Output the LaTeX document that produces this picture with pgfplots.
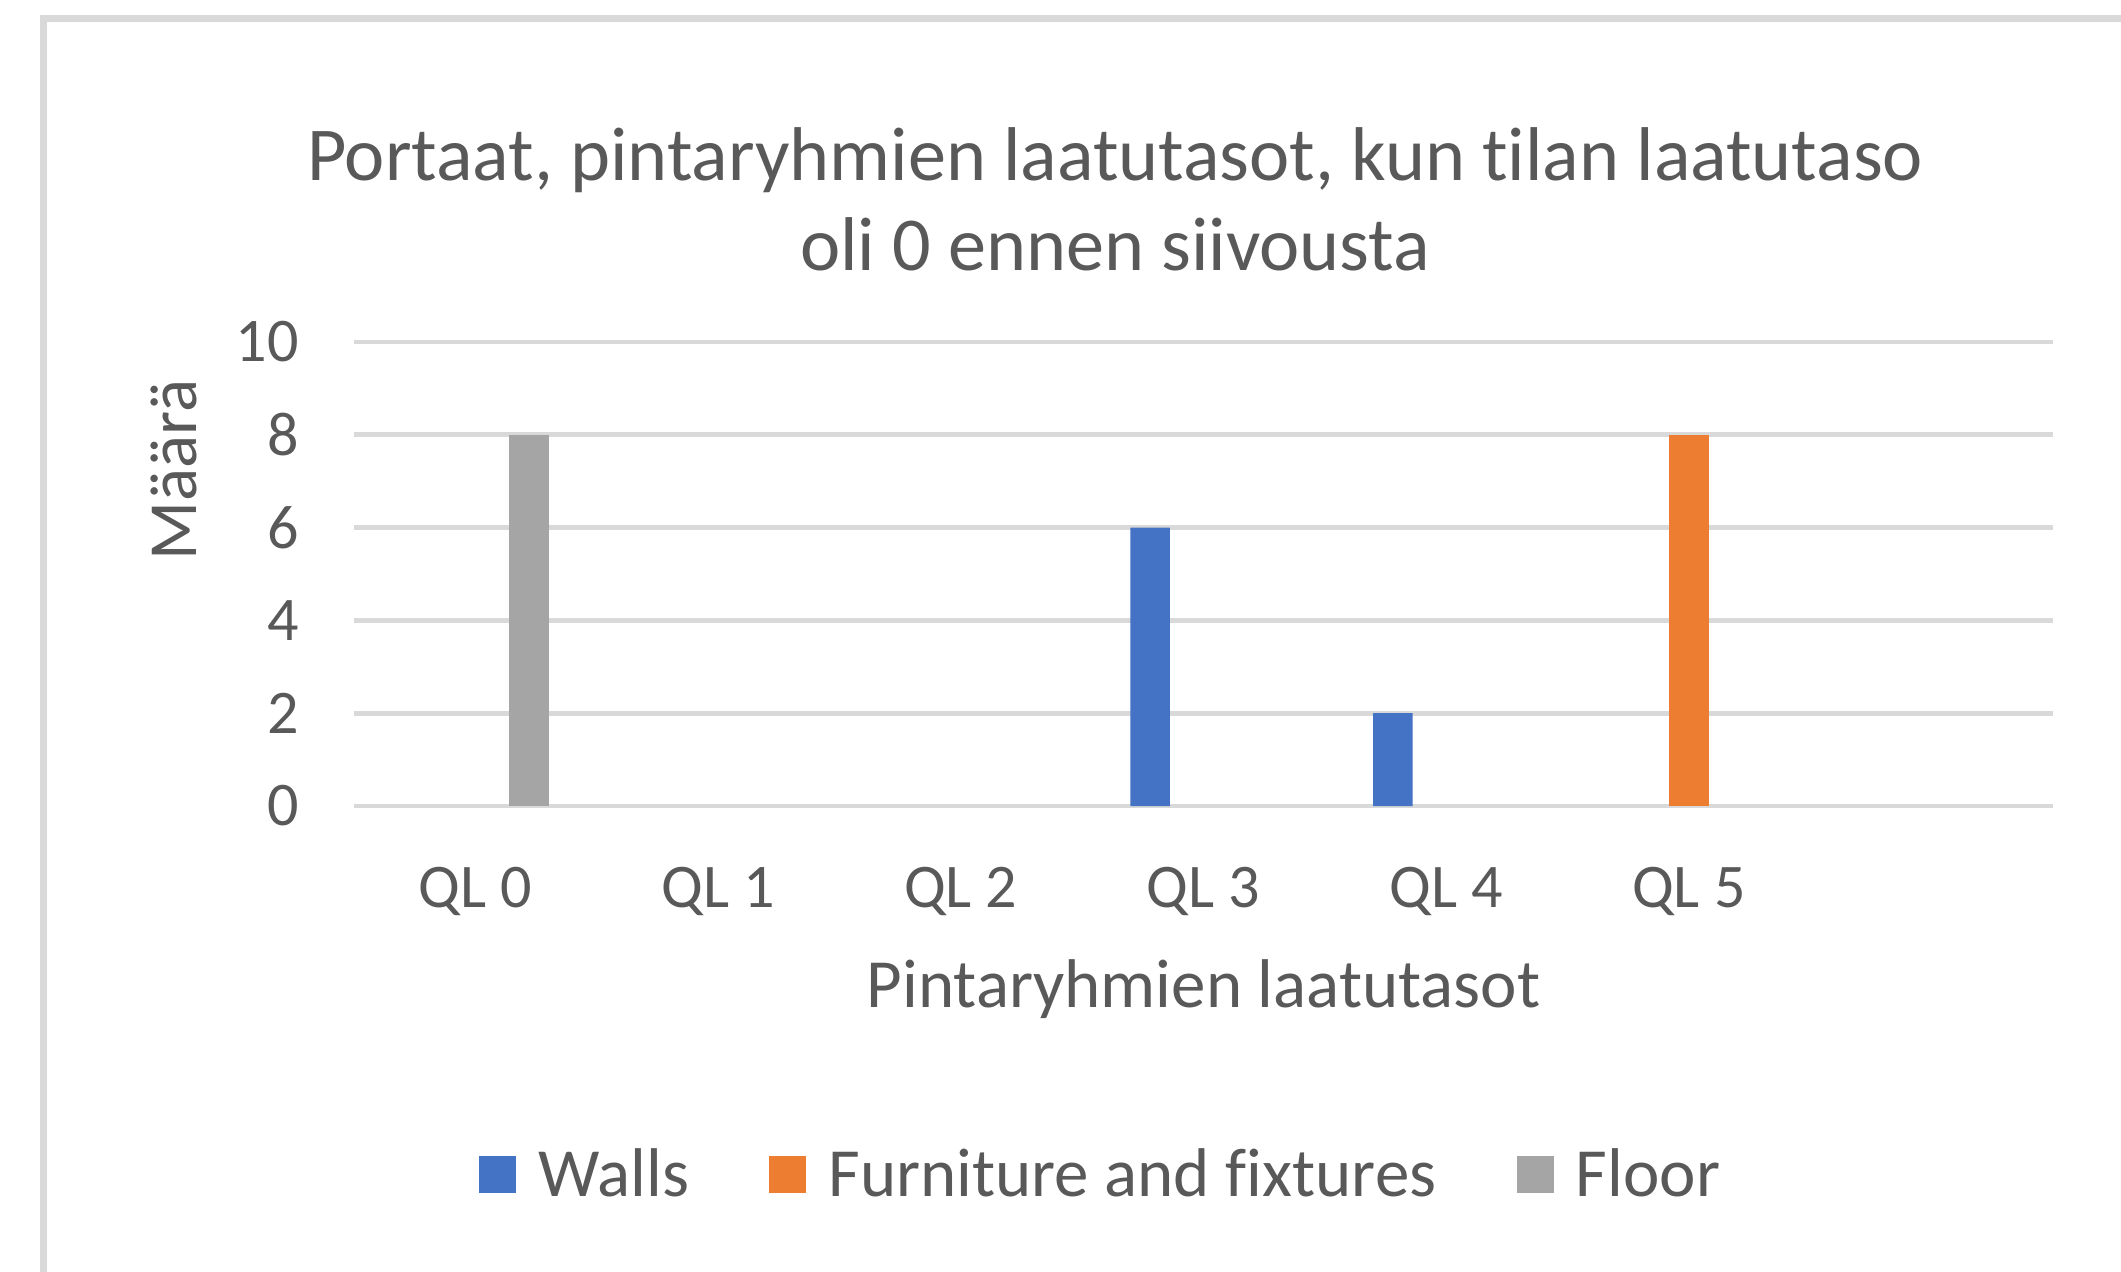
\documentclass[border=0pt]{standalone}
\usepackage{fontspec}
\setmainfont{Carlito}[Ligatures={NoCommon}]
\usepackage{pgfplots}
\pgfplotsset{compat=1.18}
\definecolor{walls}{HTML}{4472C4}
\definecolor{furn}{HTML}{ED7D31}
\definecolor{floorc}{HTML}{A5A5A5}
\definecolor{gridc}{HTML}{D9D9D9}
\definecolor{txt}{HTML}{595959}
\pgfplotsset{sq/.style={legend image code/.code={%
  \fill[##1] (0pt,-2.3pt) rectangle (5.4pt,3.1pt); \path (6.6pt,0pt);}}}

\begin{document}
\begin{tikzpicture}
\useasboundingbox (0,0) rectangle (307.545pt,-184.295pt);
\begin{scope}
  \clip (0,0) rectangle (307.545pt,-184.295pt);
  \draw[gridc, line width=0.95pt] (6.31pt,-2.68pt) rectangle (330pt,-200pt);
\end{scope}
\begin{axis}[
  at={(51.33pt,-116.87pt)}, anchor=south west,
  scale only axis, width=246.36pt, height=67.28pt,
  xmin=-0.5, xmax=6.5, ymin=0, ymax=10,
  xtick={0,...,5}, xticklabels={QL 0,QL 1,QL 2,QL 3,QL 4,QL 5},
  ytick={0,2,...,10},
  ymajorgrids, grid style={gridc, line width=0.7pt},
  axis line style={draw=none}, major tick style={draw=none},
  tick label style={font=\fontsize{9}{10}\selectfont, text=txt},
  /pgf/number format/assume math mode=true,
  yticklabel style={anchor=east, inner sep=0pt, xshift=-7.8pt},
  xticklabel style={anchor=north, inner sep=0pt, yshift=-8.7pt},
  xlabel={Pintaryhmien laatutasot},
  ylabel={Määrä},
  every axis x label/.style={at={(axis description cs:0.5,-0.435)}, anchor=base,
    font=\fontsize{10}{12}\selectfont, text=txt},
  every axis y label/.style={at={(axis description cs:-0.106,0.724)}, rotate=90, anchor=center,
    font=\fontsize{10}{12}\selectfont, text=txt},
  legend style={at={(axis description cs:0.443,-0.80)}, anchor=center, draw=none, fill=none,
    legend columns=-1, font=\fontsize{10}{12}\selectfont, text=txt,
    /tikz/every even column/.append style={column sep=9.6pt}},
]
\addplot[ybar, bar width=0.163, bar shift=-0.22, fill=walls, draw=none, sq]
  coordinates {(3,6) (4,2)};
\addplot[ybar, bar width=0.163, bar shift=0, fill=furn, draw=none, sq]
  coordinates {(5,8)};
\addplot[ybar, bar width=0.163, bar shift=0.22, fill=floorc, draw=none, sq]
  coordinates {(0,8)};
\legend{Walls, Furniture and fixtures, Floor}
\end{axis}
\node[anchor=base, font=\fontsize{11.05}{13}\selectfont, text=txt] at (161.7pt,-26.1pt)
  {Portaat, pintaryhmien laatutasot, kun tilan laatutaso};
\node[anchor=base, font=\fontsize{11.05}{13}\selectfont, text=txt] at (161.7pt,-39.15pt)
  {oli 0 ennen siivousta};
\end{tikzpicture}
\end{document}
